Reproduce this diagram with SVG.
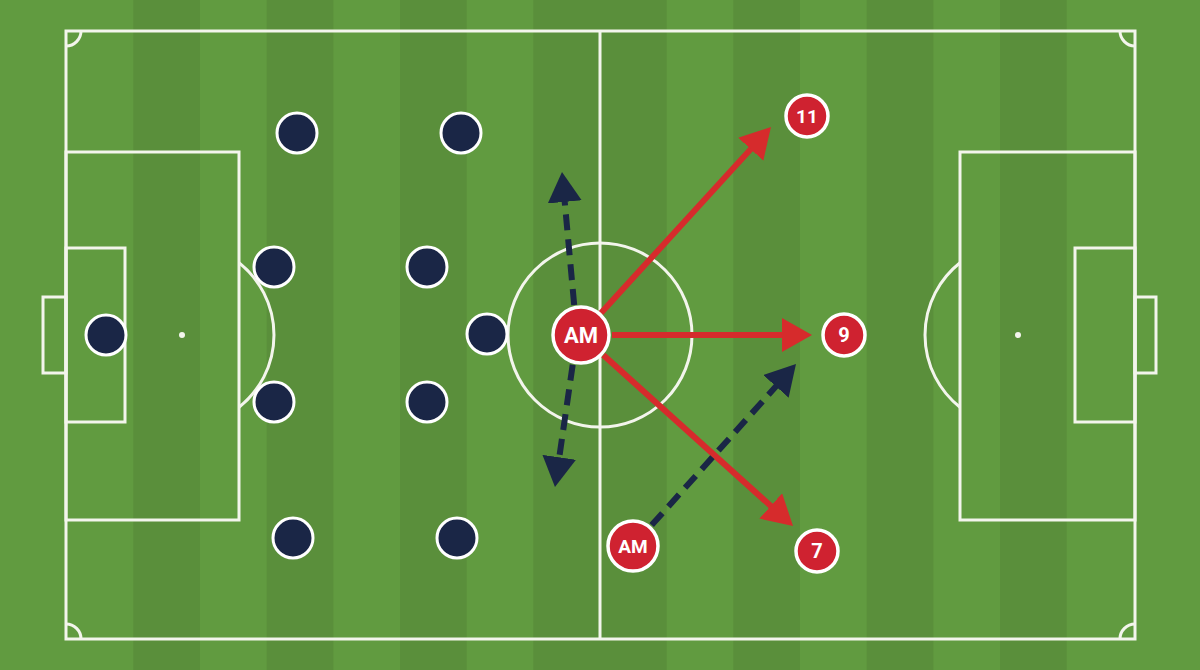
<svg xmlns="http://www.w3.org/2000/svg" width="1200" height="670" viewBox="0 0 1200 670">
<defs>
<style>
.line{fill:none;stroke:#f3f5ec;stroke-width:3}
.spot{fill:#f3f5ec}
.stripe{fill:#5a8f3b}
.opp{fill:#1a2646;stroke:#ffffff;stroke-width:3}
.red{fill:#cf2230;stroke:#ffffff;stroke-width:3.5}
.lbl{font-family:"Roboto","Liberation Sans",Arial,sans-serif;font-weight:bold;fill:#ffffff;text-anchor:middle}
.run{fill:none;stroke:#d62b2c;stroke-width:6;marker-end:url(#redHead)}
.move{fill:none;stroke:#1a2646;stroke-width:6;stroke-dasharray:16 9;marker-end:url(#navyHead)}
</style>
<marker id="redHead" markerUnits="userSpaceOnUse" markerWidth="34" markerHeight="36" refX="20" refY="17" orient="auto">
<path d="M0,0 L30,17 L0,34 Z" fill="#d62b2c"/>
</marker>
<marker id="navyHead" markerUnits="userSpaceOnUse" markerWidth="34" markerHeight="36" refX="20" refY="17" orient="auto">
<path d="M0,0 L30,17 L0,34 Z" fill="#1a2646"/>
</marker>
</defs>

<g id="pitch">
<rect x="0" y="0" width="1200" height="670" fill="#619b40"/>
<rect class="stripe" x="133.3" y="0" width="66.7" height="670"/>
<rect class="stripe" x="266.7" y="0" width="66.7" height="670"/>
<rect class="stripe" x="400" y="0" width="66.7" height="670"/>
<rect class="stripe" x="533.3" y="0" width="133.4" height="670"/>
<rect class="stripe" x="733.3" y="0" width="66.7" height="670"/>
<rect class="stripe" x="866.7" y="0" width="66.7" height="670"/>
<rect class="stripe" x="1000" y="0" width="66.7" height="670"/>

<rect class="line" x="66" y="31" width="1069" height="608"/>
<line class="line" x1="600" y1="31" x2="600" y2="639"/>
<circle class="line" cx="600" cy="335" r="92"/>

<rect class="line" x="66" y="152" width="173" height="368"/>
<rect class="line" x="66" y="248" width="59" height="174"/>
<rect class="line" x="43" y="297" width="23" height="76"/>
<circle class="spot" cx="182" cy="335" r="3"/>
<path class="line" d="M239 262.8 A92 92 0 0 1 239 407.2"/>

<rect class="line" x="960" y="152" width="175" height="368"/>
<rect class="line" x="1075" y="248" width="60" height="174"/>
<rect class="line" x="1135" y="297" width="21" height="76"/>
<circle class="spot" cx="1018" cy="335" r="3"/>
<path class="line" d="M960 262.8 A92 92 0 0 0 960 407.2"/>

<path class="line" d="M81 31 A15 15 0 0 1 66 46"/>
<path class="line" d="M1120 31 A15 15 0 0 0 1135 46"/>
<path class="line" d="M66 624 A15 15 0 0 1 81 639"/>
<path class="line" d="M1135 624 A15 15 0 0 0 1120 639"/>
</g>

<g id="connectors">
<line class="run" x1="601" y1="313" x2="764.2" y2="134.4"/>
<line class="run" x1="612" y1="335" x2="802" y2="335"/>
<line class="run" x1="603.3" y1="355.1" x2="785.6" y2="519.3"/>
<line class="move" x1="574.2" y1="305" x2="562.9" y2="182"/>
<line class="move" x1="572.7" y1="364.7" x2="556.4" y2="477.1"/>
<line class="move" x1="651.7" y1="525.1" x2="789.3" y2="371.5"/>
</g>

<g id="gk"><circle class="opp" cx="106" cy="335" r="20"/></g>
<g id="opp-lb"><circle class="opp" cx="297" cy="133" r="20"/></g>
<g id="opp-lcb"><circle class="opp" cx="274" cy="267" r="20"/></g>
<g id="opp-rcb"><circle class="opp" cx="274" cy="402" r="20"/></g>
<g id="opp-rb"><circle class="opp" cx="293" cy="538" r="20"/></g>
<g id="opp-lm"><circle class="opp" cx="461" cy="133" r="20"/></g>
<g id="opp-lcm"><circle class="opp" cx="427" cy="267" r="20"/></g>
<g id="opp-rcm"><circle class="opp" cx="427" cy="402" r="20"/></g>
<g id="opp-rm"><circle class="opp" cx="457" cy="538" r="20"/></g>
<g id="opp-st"><circle class="opp" cx="487" cy="334" r="20"/></g>

<g id="am-main"><circle class="red" cx="581" cy="335" r="28"/><text class="lbl" x="581" y="343" font-size="22">AM</text></g>
<g id="am-low"><circle class="red" cx="633" cy="546" r="25"/><text class="lbl" x="633" y="553" font-size="19">AM</text></g>
<g id="p11"><circle class="red" cx="807" cy="116" r="21"/><text class="lbl" x="807" y="123" font-size="19">11</text></g>
<g id="p9"><circle class="red" cx="844" cy="335" r="21"/><text class="lbl" x="844" y="342" font-size="20">9</text></g>
<g id="p7"><circle class="red" cx="817" cy="551" r="21"/><text class="lbl" x="817" y="558" font-size="20">7</text></g>
</svg>
